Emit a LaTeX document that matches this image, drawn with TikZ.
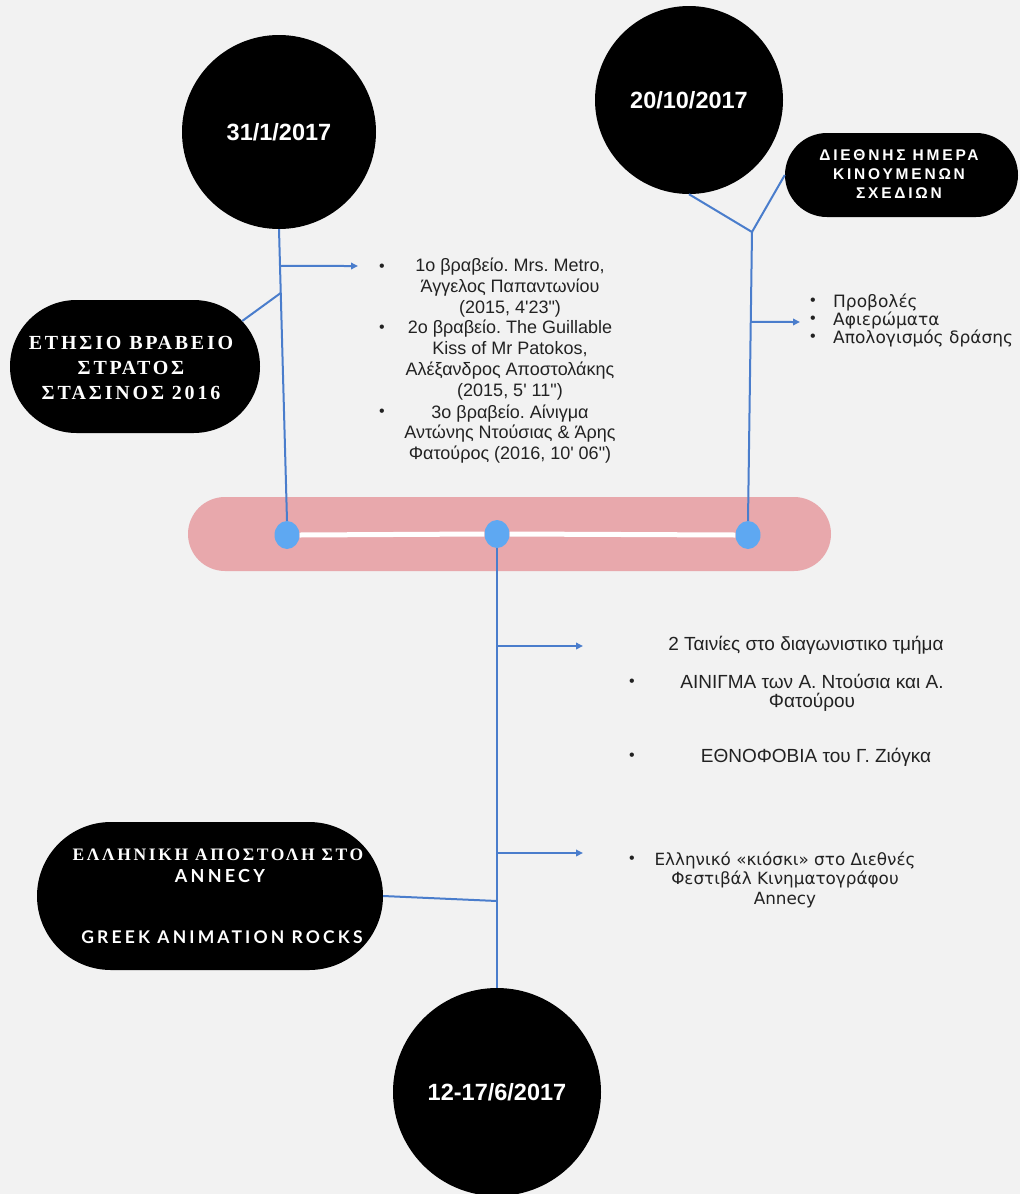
\documentclass[tikz,border=0pt]{standalone}
\usepackage{fontspec}
\setmainfont{Liberation Sans}
\newfontfamily\arialf{Liberation Sans}
\newfontfamily\serifsp[LetterSpace=14]{Liberation Serif}
\newfontfamily\serifspb[LetterSpace=15]{Liberation Serif}
\newfontfamily\latosp[LetterSpace=18]{Lato}
\newfontfamily\arialsp[LetterSpace=18]{Liberation Sans}
\newfontfamily\lucf{DejaVu Sans}
\usetikzlibrary{shapes.misc,shapes.geometric,calc,arrows.meta}
\definecolor{bg}{HTML}{F2F2F2}
\definecolor{pinkband}{HTML}{E8A8AC}
\definecolor{dotblue}{HTML}{5EA8F2}
\definecolor{lineblue}{HTML}{4A7DCC}
\definecolor{txtgray}{HTML}{222222}
\tikzset{
  datecircle/.style={circle, fill=black, text=white, inner sep=0pt, minimum size=#1,
    font=\arialf\bfseries\fontsize{23.5}{26}\selectfont},
  pill/.style={rounded rectangle, fill=black, inner sep=0pt},
  tdot/.style={ellipse, fill=dotblue, minimum width=25pt, minimum height=28pt, inner sep=0pt},
  conn/.style={draw=lineblue, line width=2pt},
  arr/.style={conn, -{Triangle[length=7pt,width=6.5pt]}},
  listtxt/.style={align=center, text=txtgray, inner sep=0pt, font=\arialf\fontsize{18}{20.8}\selectfont},
  midtxt/.style={align=center, text=txtgray, inner sep=0pt, font=\arialf\fontsize{19}{19}\selectfont},
  luctxt/.style={align=#1, text=txtgray, inner sep=0pt, font=\lucf\fontsize{16.8}{19.5}\selectfont},
  bul/.style={text=txtgray, inner sep=0pt, font=\arialf\fontsize{16}{16}\selectfont},
  pilltxt/.style={text=white, align=center, inner sep=0pt}
}
\begin{document}
\frenchspacing
\begin{tikzpicture}[x=1pt,y=-1pt]
\fill[bg] (0,0) rectangle (1020,1194);
\useasboundingbox (0,0) rectangle (1020,1194);

% band and dots
\node[rounded rectangle, fill=pinkband, minimum width=643pt, minimum height=74pt, inner sep=0pt] (band) at (509.5,534) {};
\node[tdot] (d1) at (287,535) {};
\node[tdot] (d2) at (497,534) {};
\node[tdot] (d3) at (748,535) {};
\draw[white, line width=5pt] (d1.east) -- (d2.west);
\draw[white, line width=5pt] (d2.east) -- (d3.west);

% circles
\node[datecircle=194pt] (c1) at (279,132) {31/1/2017};
\node[datecircle=188pt] (c2) at (689,100) {20/10/2017};
\node[datecircle=208pt] (c3) at (497,1092) {12-17/6/2017};

% pills
\node[pill, minimum width=250pt, minimum height=133pt] (p1) at (135,366.5) {};
\node[pill, minimum width=233pt, minimum height=84pt] (p2) at (901.5,175) {};
\node[pill, minimum width=346pt, minimum height=148pt] (p3) at (210,896) {};

\node[pilltxt, font=\serifsp\bfseries\fontsize{20}{25}\selectfont] (p1t) at (131,368) {ΕΤΗΣΙΟ ΒΡΑΒΕΙΟ\\ΣΤΡΑΤΟΣ\\ΣΤΑΣΙΝΟΣ 2016};
\node[pilltxt, font=\arialsp\bfseries\fontsize{15.5}{19}\selectfont] (p2t) at (899,174) {ΔΙΕΘΝΗΣ ΗΜΕΡΑ\\ΚΙΝΟΥΜΕΝΩΝ\\ΣΧΕΔΙΩΝ};
\node[pilltxt, font=\serifspb\bfseries\fontsize{17.5}{20}\selectfont] (p3a) at (218,855) {ΕΛΛΗΝΙΚΗ ΑΠΟΣΤΟΛΗ ΣΤΟ};
\node[pilltxt, font=\latosp\bfseries\fontsize{18}{20}\selectfont] (p3b) at (220,876) {ANNECY};
\node[pilltxt, font=\latosp\bfseries\fontsize{17.5}{20}\selectfont] (p3c) at (222,937) {GREEK ANIMATION ROCKS};

% left branch
\draw[conn] (c1.south) -- (d1.north);
\coordinate (j1) at (intersection of c1.south--d1.north and 0,293--1000,293);
\coordinate (a1s) at (intersection of c1.south--d1.north and 0,266--1000,266);
\coordinate (a1e) at (358,266);
\draw[conn] (p1.23) -- (j1);
\draw[arr] (a1s) -- (a1e);

% right branch
\coordinate (j2) at (752,232);
\draw[conn] (c2.south) -- (j2);
\draw[conn] (p2.west) -- (j2);
\draw[conn] (j2) -- (d3.north);
\coordinate (a2s) at (intersection of j2--d3.north and 0,322--1000,322);
\coordinate (a2e) at (800,322);
\draw[arr] (a2s) -- (a2e);

% middle branch
\draw[conn] (d2.south) -- (c3.north);
\coordinate (a3s) at (497,646);
\coordinate (a3e) at (583,646);
\coordinate (a4s) at (497,853);
\coordinate (a4e) at (583,853);
\coordinate (j3) at (497,901);
\draw[arr] (a3s) -- (a3e);
\draw[arr] (a4s) -- (a4e);
\draw[conn] (p3.east) -- (j3);

% list 1
\node[bul] (b11) at (382,268) {•};
\node[bul] (b12) at (382,329) {•};
\node[bul] (b13) at (382,413) {•};
\node[listtxt] (l11) at (510,287.5) {1ο βραβείο. Mrs. Metro,\\Άγγελος Παπαντωνίου\\(2015, 4'23")};
\node[listtxt] (l12) at (510,360) {2ο βραβείο. The Guillable\\Kiss of Mr Patokos,\\Αλέξανδρος Αποστολάκης\\(2015, 5' 11")};
\node[listtxt] (l13) at (510,434) {3ο βραβείο. Αίνιγμα\\Αντώνης Ντούσιας \& Άρης\\Φατούρος (2016, 10' 06")};

% list 2
\node[bul] (b21) at (813,302) {•};
\node[bul] (b22) at (813,320) {•};
\node[bul] (b23) at (813,338) {•};
\node[luctxt=left, anchor=west, font=\lucf\fontsize{17}{18}\selectfont] (l2) at (833,320) {Προβολές\\Αφιερώματα\\Απολογισμός δράσης};

% list 3
\node[midtxt] (m0) at (806,645) {2 Ταινίες στο διαγωνιστικο τμήμα};
\node[bul] (b31) at (632,683) {•};
\node[midtxt] (m1) at (812,692.5) {ΑΙΝΙΓΜΑ των Α. Ντούσια και Α.\\Φατούρου};
\node[bul] (b32) at (632,757) {•};
\node[midtxt] (m2) at (816,757) {ΕΘΝΟΦΟΒΙΑ του Γ. Ζιόγκα};
\node[bul] (b33) at (632,860) {•};
\node[luctxt=center] (m3) at (785,880) {Ελληνικό «κιόσκι» στο Διεθνές\\Φεστιβάλ Κινηματογράφου\\Annecy};
\end{tikzpicture}
\end{document}
